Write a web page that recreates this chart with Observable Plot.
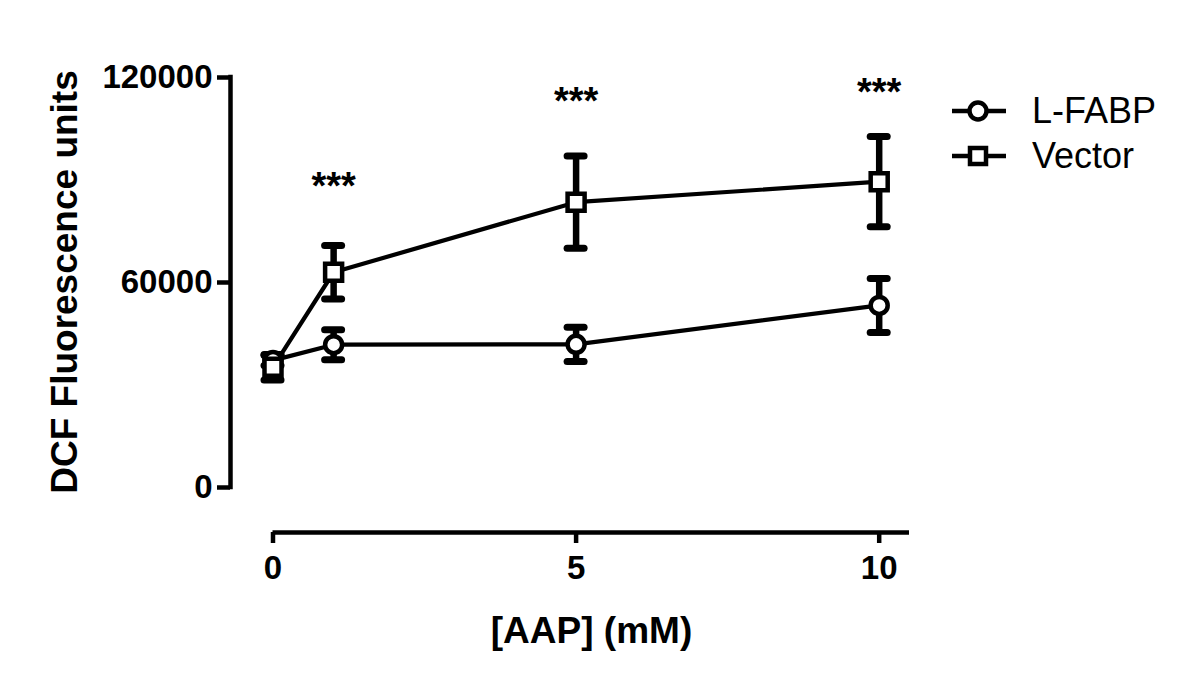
<!DOCTYPE html>
<html>
<head>
<meta charset="utf-8">
<script src="https://cdn.jsdelivr.net/npm/d3@7"></script>
<script src="https://cdn.jsdelivr.net/npm/@observablehq/plot@0.6"></script>
<style>
  html, body { margin: 0; padding: 0; background: #fff; }
  #wrap { position: relative; width: 1200px; height: 690px; font-family: "Liberation Sans", Arial, sans-serif; }
  #legend { position: absolute; left: 950px; top: 88px; }
  .item { display: flex; align-items: center; height: 45px; font-size: 36px; color: #000; }
  .item svg { margin-right: 24px; }
</style>
</head>
<body>
<div id="wrap"></div>
<script>
// ---- data ----
const doses = [0, 1, 5, 10];
const lfabpMean = [37200, 41800, 41900, 53300];
const lfabpErr  = [1500, 4400, 5000, 7900];
const vectorMean = [35200, 63000, 83500, 89500];
const vectorErr  = [3700, 7800, 13500, 13200];
const seriesNames = ["L-FABP", "Vector"];
const seriesSymbols = ["circle", "square"];
const starX = [1, 5, 10];
const starY = [88000, 112800, 115400];
const starLabels = ["***", "***", "***"];
const yTicks = [0, 60000, 120000];
const xTicks = [0, 5, 10];
const xLabel = "[AAP] (mM)";
const yLabel = "DCF Fluorescence units";

const rows = [];
doses.forEach((d, i) => {
  rows.push({series: seriesNames[0], x: d, mean: lfabpMean[i], err: lfabpErr[i]});
  rows.push({series: seriesNames[1], x: d, mean: vectorMean[i], err: vectorErr[i]});
});
const stars = starX.map((x, i) => ({x, y: starY[i], label: starLabels[i]}));

const font = "'Liberation Sans', Arial, sans-serif";

const chart = Plot.plot({
  width: 1200,
  height: 690,
  marginLeft: 230,
  marginRight: 291,
  marginTop: 77,
  marginBottom: 158,
  style: {fontFamily: font, background: "#fff", color: "#000", overflow: "visible"},
  x: {domain: [0, 10.5], insetLeft: 42.5},
  y: {domain: [0, 120000], insetBottom: 45},
  symbol: {domain: seriesNames, range: seriesSymbols},
  marks: [
    // axis lines
    Plot.ruleX([0], {y1: 0, y2: 120000, dx: -42.5, strokeWidth: 4.5, strokeLinecap: "square"}),
    Plot.ruleY([0], {x1: 0, x2: 10.5, dy: 45, strokeWidth: 4.5, strokeLinecap: "butt"}),
    Plot.axisY({ticks: yTicks, tickSize: 13, tickPadding: 5, tickFormat: d => String(d),
      fontSize: 33, fontWeight: "bold", strokeWidth: 4.5, label: null}),
    Plot.axisX({ticks: xTicks, tickSize: 11, tickPadding: 12, tickFormat: d => String(d),
      fontSize: 33, fontWeight: "bold", strokeWidth: 4.5, label: null}),
    // lines
    Plot.line(rows, {x: "x", y: "mean", z: "series", stroke: "#000", strokeWidth: 4.2}),
    // error bars
    Plot.ruleX(rows, {x: "x", y1: d => d.mean - d.err, y2: d => d.mean + d.err, strokeWidth: 6.5}),
    Plot.ruleY(rows, {y: d => d.mean + d.err, x1: "x", x2: "x", insetLeft: -8.5, insetRight: -8.5, strokeWidth: 7, strokeLinecap: "round"}),
    Plot.ruleY(rows, {y: d => d.mean - d.err, x1: "x", x2: "x", insetLeft: -8.5, insetRight: -8.5, strokeWidth: 7, strokeLinecap: "round"}),
    // markers
    Plot.dot(rows.filter(d => d.series === seriesNames[0]), {x: "x", y: "mean", symbol: "series", r: 8.5, fill: "#fff", stroke: "#000", strokeWidth: 4.5}),
    Plot.dot(rows.filter(d => d.series === seriesNames[1]), {x: "x", y: "mean", symbol: "series", r: 9.6, fill: "#fff", stroke: "#000", strokeWidth: 4.5}),
    // significance stars
    Plot.text(stars, {x: "x", y: "y", text: "label", fontSize: 38, fontWeight: "bold", fill: "#000"}),
    // axis titles
    Plot.text([yLabel], {frameAnchor: "left", text: d => d, rotate: -90, dx: -165, dy: -23,
      textAnchor: "middle", lineAnchor: "middle", fontSize: 37, fontWeight: "bold", fill: "#000"}),
    Plot.text([xLabel], {frameAnchor: "bottom", text: d => d, dx: 21.5, dy: 98.5,
      textAnchor: "middle", lineAnchor: "middle", fontSize: 37, fontWeight: "bold", fill: "#000"})
  ]
});

const wrap = document.getElementById("wrap");
wrap.appendChild(chart);

// legend (right side)
const legend = document.createElement("div");
legend.id = "legend";
seriesNames.forEach((name, i) => {
  const item = document.createElement("div");
  item.className = "item";
  const shape = seriesSymbols[i] === "circle"
    ? `<circle cx="28" cy="15" r="8.5" fill="#fff" stroke="#000" stroke-width="4.5"/>`
    : `<rect x="20" y="7" width="16" height="16" fill="#fff" stroke="#000" stroke-width="4.5"/>`;
  item.innerHTML = `<svg width="58" height="30"><line x1="2" y1="15" x2="56" y2="15" stroke="#000" stroke-width="4.5"/>${shape}</svg><span>${name}</span>`;
  legend.appendChild(item);
});
wrap.appendChild(legend);
</script>
</body>
</html>
